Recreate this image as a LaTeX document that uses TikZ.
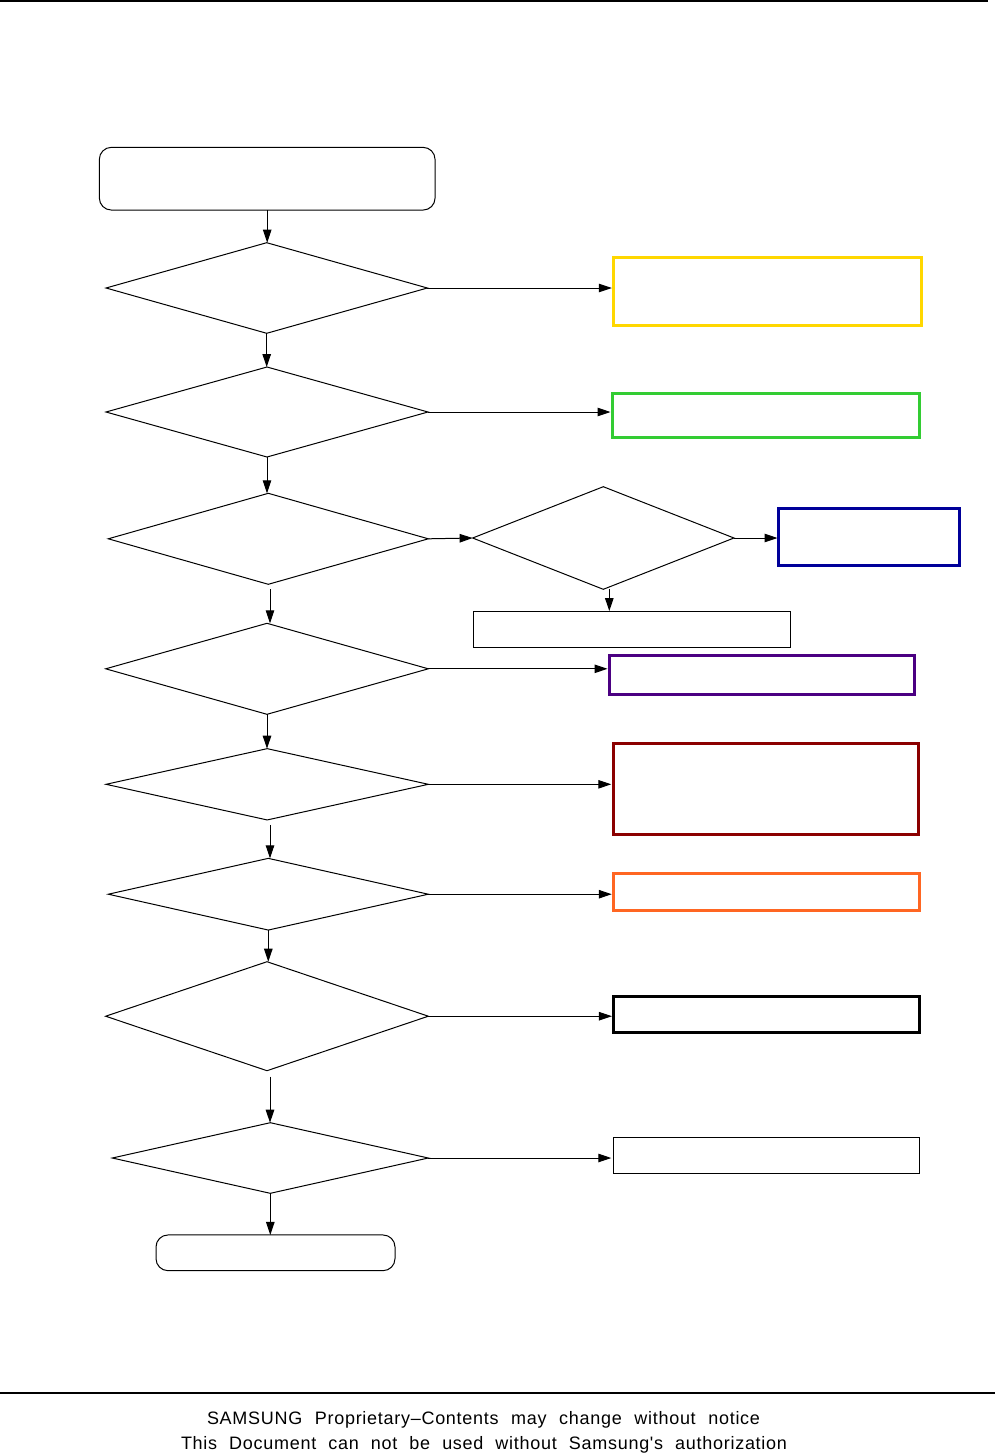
\documentclass[tikz,border=0pt]{standalone}
\usepackage{fontspec}
\usetikzlibrary{shapes.geometric,arrows.meta}
\newfontfamily\footfont[LetterSpace=4]{Liberation Sans}
\definecolor{cyel}{HTML}{FFD700}
\definecolor{cgrn}{HTML}{33CC33}
\definecolor{cblu}{HTML}{000099}
\definecolor{cpur}{HTML}{4B0082}
\definecolor{cred}{HTML}{8B0000}
\definecolor{corg}{HTML}{FF6622}
\begin{document}
\begin{tikzpicture}[x=1pt,y=-1pt,
  dia/.style={draw,shape=diamond,inner sep=0pt,outer sep=0pt,line width=1pt},
  rbox/.style={draw,rectangle,inner sep=0pt,outer sep=0pt},
  term/.style={draw,rectangle,rounded corners=12pt,inner sep=0pt,outer sep=0pt,line width=1pt},
  arr/.style={-{Triangle[length=13pt,width=8.5pt]},line width=1pt},
  foot/.style={inner sep=0pt,anchor=base,font=\footfont\fontsize{18pt}{21pt}\selectfont}]
\useasboundingbox (0,0) rectangle (995,1454);
% page rules
\draw[line width=1.6pt] (0,1) -- (988,1);
\draw[line width=1.2pt] (0,1393) -- (995,1393);
% start
\node[term,minimum width=335.7pt,minimum height=62.7pt] (s) at (267.2,178.7) {};
% decisions
\node[dia,minimum width=321.3pt,minimum height=90.6pt] (d1) at (266.7,288) {};
\node[dia,minimum width=322pt,minimum height=90pt] (d2) at (267,412) {};
\node[dia,minimum width=320pt,minimum height=91pt] (d3) at (268.3,538.8) {};
\node[dia,minimum width=261.3pt,minimum height=102.6pt] (d3b) at (603.3,538) {};
\node[dia,minimum width=322.6pt,minimum height=91pt] (d4) at (267,668.8) {};
\node[dia,minimum width=322.3pt,minimum height=71.3pt] (d5) at (267.2,784.3) {};
\node[dia,minimum width=320pt,minimum height=71.7pt] (d6) at (268.3,894.2) {};
\node[dia,minimum width=322.6pt,minimum height=109pt] (d7) at (267,1016.2) {};
\node[dia,minimum width=316pt,minimum height=70.6pt] (d8) at (270.3,1158) {};
% end
\node[term,minimum width=239pt,minimum height=35.7pt] (e) at (275.5,1252.8) {};
% action boxes
\node[rbox,draw=cyel,line width=3pt,minimum width=307.4pt,minimum height=67.7pt] (b1) at (767.5,291.3) {};
\node[rbox,draw=cgrn,line width=3pt,minimum width=307pt,minimum height=44pt] (b2) at (766,415.8) {};
\node[rbox,draw=cblu,line width=3pt,minimum width=181pt,minimum height=56.4pt] (b3) at (869,537) {};
\node[rbox,line width=1pt,minimum width=316.7pt,minimum height=36.3pt] (b3b) at (631.7,629.2) {};
\node[rbox,draw=cpur,line width=3pt,minimum width=305pt,minimum height=39pt] (b4) at (762,675) {};
\node[rbox,draw=cred,line width=3pt,minimum width=305.3pt,minimum height=90.4pt] (b5) at (765.9,789) {};
\node[rbox,draw=corg,line width=3pt,minimum width=305.7pt,minimum height=36.4pt] (b6) at (766.6,892) {};
\node[rbox,line width=3pt,minimum width=305.5pt,minimum height=35.5pt] (b7) at (766.7,1014.7) {};
\node[rbox,line width=1.3pt,minimum width=306pt,minimum height=36pt] (b8) at (766.3,1155.3) {};
% vertical flow
\draw[arr] (s.south) -- (s.south |- d1.north);
\draw[arr] (d1.south) -- (d1.south |- d2.north);
\draw[arr] (d2.south) -- (d2.south |- d3.north);
\draw[arr,shorten <=5pt] (d3.south) ++(1.7,0) coordinate (c3) -- (c3 |- d4.north);
\draw[arr] (d4.south) -- (d4.south |- d5.north);
\draw[arr,shorten <=5pt] (d5.south) ++(2.8,0) coordinate (c5) -- (c5 |- d6.north);
\draw[arr] (d6.south) -- (d6.south |- d7.north);
\draw[arr,shorten <=6pt] (d7.south) ++(3,0) coordinate (c7) -- (c7 |- d8.north);
\draw[arr] (d8.south) -- (d8.south |- e.north);
% horizontal flow
\draw[arr,shorten >=2pt] (d1.east) -- (d1.east -| b1.west);
\draw[arr,shorten >=2pt] (d2.east) -- (d2.east -| b2.west);
\draw[arr] (d3.east) -- (d3b.west);
\draw[arr,shorten >=1pt] (d3b.east) -- (d3b.east -| b3.west);
\draw[arr] (d3b.south) ++(6,0) coordinate (c3b) -- (c3b |- b3b.north);
\draw[arr,shorten >=2pt] (d4.east) -- (d4.east -| b4.west);
\draw[arr,shorten >=2pt] (d5.east) -- (d5.east -| b5.west);
\draw[arr,shorten >=2pt] (d6.east) -- (d6.east -| b6.west);
\draw[arr,shorten >=2pt] (d7.east) -- (d7.east -| b7.west);
\draw[arr,shorten >=2pt] (d8.east) -- (d8.east -| b8.west);
% footer
\node[foot] (f1) at (483.5,1424) {\makebox[553pt][s]{SAMSUNG Proprietary–Contents may change without notice}};
\node[foot] (f2) at (484,1449) {\makebox[606pt][s]{This Document can not be used without Samsung's authorization}};
\end{tikzpicture}
\end{document}
